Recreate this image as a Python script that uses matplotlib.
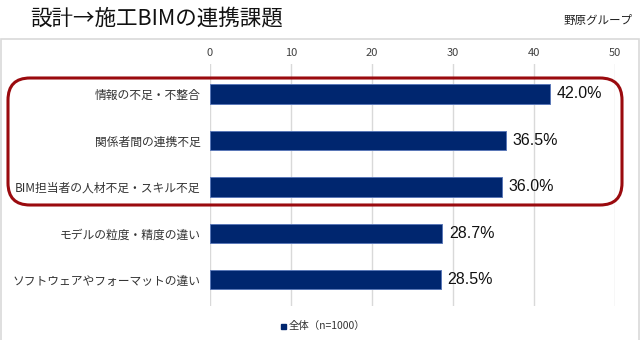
import matplotlib
matplotlib.use('Agg')
import matplotlib.pyplot as plt
from matplotlib.patches import Rectangle, FancyBboxPatch
from matplotlib.transforms import IdentityTransform

plt.rcParams['font.family'] = ['Noto Sans CJK JP', 'DejaVu Sans']

# 回答データ
categories = ['情報の不足・不整合', '関係者間の連携不足', 'BIM担当者の人材不足・スキル不足',
              'モデルの粒度・精度の違い', 'ソフトウェアやフォーマットの違い']
values = [42.0, 36.5, 36.0, 28.7, 28.5]
xticks = [0, 10, 20, 30, 40, 50]
series_name = '全体（n=1000）'

navy = '#00266f'
W, H = 640, 340

fig = plt.figure(figsize=(6.4, 3.4), dpi=100)

# 外枠
fig.patches.append(Rectangle((1 / W, -0.05), 638 / W, 1 - 39 / H + 0.05,
                             transform=fig.transFigure, fill=False,
                             edgecolor='#d9d9d9', linewidth=1.2))

ax = fig.add_axes([210 / W, 1 - 306 / H, 405 / W, 242 / H])
y = list(range(len(categories)))
ax.barh(y, values, height=0.41, color=navy, edgecolor='#5a78b8', linewidth=0.7, zorder=3)

ax.set_xlim(0, 50)
ax.set_ylim(4.56, -0.645)
ax.set_xticks(xticks)
ax.xaxis.tick_top()
ax.tick_params(axis='x', length=0, labelsize=8, labelcolor='#404040', pad=4)
ax.set_yticks(y)
ax.set_yticklabels(categories)
ax.tick_params(axis='y', length=0, labelsize=8.5, labelcolor='#333333', pad=7)
ax.grid(axis='x', color='#d9d9d9', linewidth=1, zorder=0)
for s in ax.spines.values():
    s.set_visible(False)

for yi, v in zip(y, values):
    ax.text(v + 0.8, yi, f'{v:.1f}%', va='center', ha='left', fontsize=11.5,
            family=['Liberation Sans', 'DejaVu Sans'], color='#111111')

# 上位3項目を囲む（ピクセル座標）
fig.patches.append(FancyBboxPatch((8, H - 205), 614, 127,
                                  boxstyle='round,pad=0,rounding_size=22',
                                  transform=IdentityTransform(), fill=False,
                                  edgecolor='#9a0a0e', linewidth=2.2, zorder=5))

fig.text(30 / W, 1 - 18 / H, '設計→施工BIMの連携課題', fontsize=15.5, va='center', ha='left',
         color='#111111')
fig.text(632 / W, 1 - 20 / H, '野原グループ', fontsize=8.3, va='center', ha='right',
         color='#222222')

# 凡例
fig.patches.append(Rectangle((281 / W, 1 - 329 / H), 5 / W, 5 / H,
                             transform=fig.transFigure, color=navy))
fig.text(289 / W, 1 - 326 / H, series_name, fontsize=7.5, va='center', ha='left',
         color='#333333')

fig.savefig('out.png', dpi=100)
